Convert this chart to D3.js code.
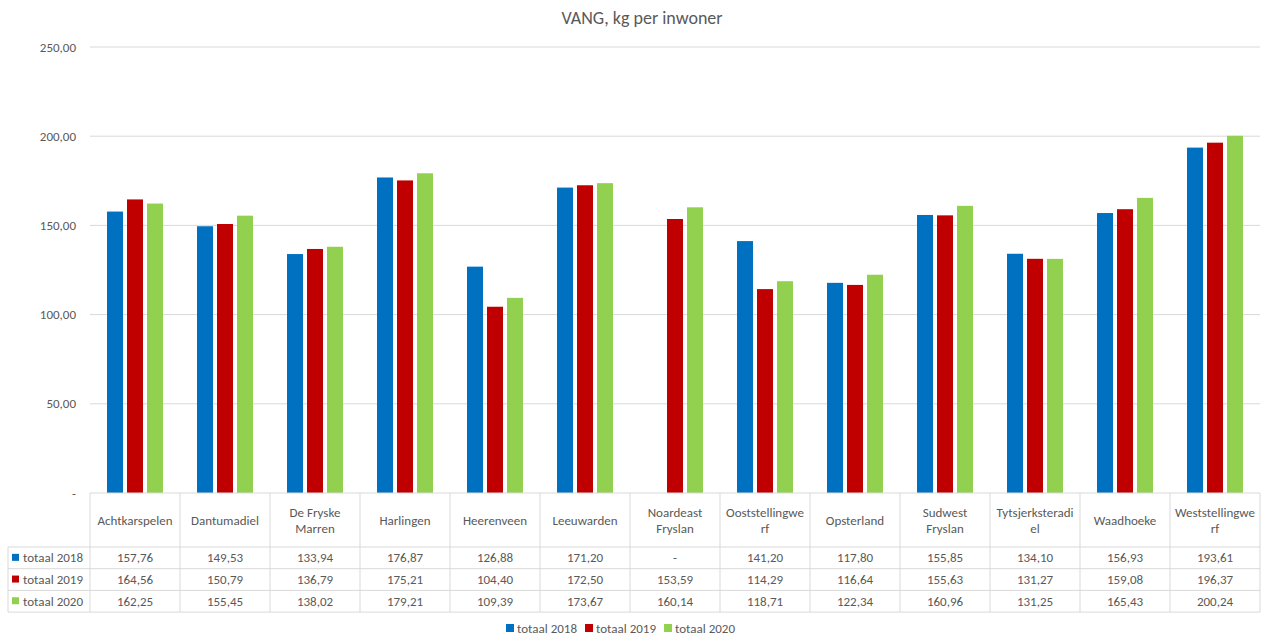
<!DOCTYPE html>
<html>
<head>
<meta charset="utf-8">
<script src="https://cdn.jsdelivr.net/npm/d3@7"></script>
<style>
  body { margin: 0; background: #fff; }
  text { font-family: Carlito, Calibri, "Open Sans", "Liberation Sans", sans-serif; fill: #595959; }
</style>
</head>
<body>
<svg id="chart"></svg>
<script>
const categories = ['Achtkarspelen', 'Dantumadiel', 'De Fryske Marren', 'Harlingen', 'Heerenveen',
  'Leeuwarden', 'Noardeast Fryslan', 'Ooststellingwerf', 'Opsterland', 'Sudwest Fryslan',
  'Tytsjerksteradiel', 'Waadhoeke', 'Weststellingwerf'];
const seriesNames = ['totaal 2018', 'totaal 2019', 'totaal 2020'];
const totaal2018 = [157.76, 149.53, 133.94, 176.87, 126.88, 171.20, null, 141.20, 117.80, 155.85, 134.10, 156.93, 193.61];
const totaal2019 = [164.56, 150.79, 136.79, 175.21, 104.40, 172.50, 153.59, 114.29, 116.64, 155.63, 131.27, 159.08, 196.37];
const totaal2020 = [162.25, 155.45, 138.02, 179.21, 109.39, 173.67, 160.14, 118.71, 122.34, 160.96, 131.25, 165.43, 200.24];
const yTicks = [0, 50, 100, 150, 200, 250];
const colors = ['#0070C0', '#C00000', '#92D050'];

const series = [totaal2018, totaal2019, totaal2020];
const width = 1267, height = 638;
const plotLeft = 90, plotRight = 1260, plotTop = 47, plotBottom = 493;
const fmt = v => v == null ? '-' : (v === 0 ? '-' : v.toFixed(2).replace('.', ','));

const svg = d3.select('#chart').attr('width', width).attr('height', height);

// title
svg.append('text')
  .attr('x', 642).attr('y', 24)
  .attr('text-anchor', 'middle')
  .style('font-size', '18px')
  .text('VANG, kg per inwoner');

const x = d3.scaleBand().domain(categories).range([plotLeft, plotRight]);
const xInner = d3.scaleBand().domain(seriesNames).range([17, 73]).paddingInner(0.2);
const y = d3.scaleLinear().domain([0, 250]).range([plotBottom, plotTop]);

// gridlines + tick labels
const grid = svg.append('g');
grid.selectAll('line').data(yTicks.filter(d => d > 0)).enter().append('line')
  .attr('x1', plotLeft).attr('x2', plotRight)
  .attr('y1', d => y(d)).attr('y2', d => y(d))
  .attr('stroke', '#d9d9d9').attr('stroke-width', 1);
grid.selectAll('text').data(yTicks).enter().append('text')
  .attr('x', 76).attr('y', d => y(d))
  .attr('dy', '0.35em')
  .attr('text-anchor', 'end')
  .style('font-size', '13px')
  .text(d => fmt(d));

// bars
const groups = svg.selectAll('.grp').data(categories).enter().append('g')
  .attr('class', 'grp')
  .attr('transform', d => `translate(${x(d)},0)`);
groups.selectAll('rect')
  .data((d, i) => series.map((s, j) => ({ name: seriesNames[j], value: s[i], j })).filter(d => d.value != null))
  .enter().append('rect')
  .attr('x', d => xInner(d.name))
  .attr('width', xInner.bandwidth())
  .attr('y', d => y(d.value))
  .attr('height', d => plotBottom - y(d.value))
  .attr('fill', d => colors[d.j]);

// data table
const tableLeft = 8;
const headerBottom = 547;
const rowH = 21.7;
const tableBottom = headerBottom + rowH * 3;
const tbl = svg.append('g');
const border = '#d9d9d9';

tbl.append('line').attr('x1', plotLeft).attr('x2', plotRight).attr('y1', plotBottom).attr('y2', plotBottom).attr('stroke', border);
[0, 1, 2, 3].forEach(r => {
  tbl.append('line').attr('x1', tableLeft).attr('x2', plotRight)
    .attr('y1', headerBottom + r * rowH).attr('y2', headerBottom + r * rowH).attr('stroke', border);
});
tbl.append('line').attr('x1', tableLeft).attr('x2', tableLeft).attr('y1', headerBottom).attr('y2', tableBottom).attr('stroke', border);
d3.range(categories.length + 1).forEach(i => {
  const xx = plotLeft + i * x.bandwidth();
  tbl.append('line').attr('x1', xx).attr('x2', xx).attr('y1', plotBottom).attr('y2', tableBottom).attr('stroke', border);
});

// header labels with wrapping
function wrapLines(textSel, str, maxW) {
  const words = str.split(' ');
  const lines = [];
  let cur = '';
  const measure = s => { textSel.text(s); return textSel.node().getComputedTextLength(); };
  words.forEach(w => {
    const trial = cur ? cur + ' ' + w : w;
    if (measure(trial) <= maxW) { cur = trial; return; }
    if (cur) lines.push(cur);
    cur = '';
    let piece = '';
    for (const ch of w) {
      if (measure(piece + ch) > maxW && piece) { lines.push(piece); piece = ch; }
      else piece += ch;
    }
    cur = piece;
  });
  if (cur) lines.push(cur);
  return lines;
}

categories.forEach(c => {
  const cx = x(c) + x.bandwidth() / 2;
  const t = tbl.append('text')
    .attr('text-anchor', 'middle')
    .style('font-size', '13px');
  const lines = wrapLines(t, c, 82);
  t.text(null);
  const lh = 16;
  const y0 = (plotBottom + headerBottom) / 2 - (lines.length - 1) * lh / 2;
  lines.forEach((ln, k) => {
    t.append('tspan').attr('x', cx).attr('y', y0 + k * lh).attr('dy', '0.35em').text(ln);
  });
});

// rows
series.forEach((s, j) => {
  const cy = headerBottom + j * rowH + rowH / 2;
  tbl.append('rect').attr('x', tableLeft + 4).attr('y', cy - 4).attr('width', 7).attr('height', 7).attr('fill', colors[j]);
  tbl.append('text').attr('x', tableLeft + 15).attr('y', cy).attr('dy', '0.35em')
    .style('font-size', '13px').text(seriesNames[j]);
  s.forEach((v, i) => {
    tbl.append('text')
      .attr('x', x(categories[i]) + x.bandwidth() / 2)
      .attr('y', cy).attr('dy', '0.35em')
      .attr('text-anchor', 'middle')
      .style('font-size', '13px')
      .text(fmt(v));
  });
});

// bottom legend
const legend = svg.append('g').attr('transform', 'translate(506,628)');
let lx = 0;
seriesNames.forEach((n, j) => {
  const g = legend.append('g').attr('transform', `translate(${lx},0)`);
  g.append('rect').attr('x', 0).attr('y', -4).attr('width', 8).attr('height', 8).attr('fill', colors[j]);
  const t = g.append('text').attr('x', 11).attr('y', 0).attr('dy', '0.35em').style('font-size', '13px').text(n);
  lx += 11 + t.node().getComputedTextLength() + 8;
});
</script>
</body>
</html>
